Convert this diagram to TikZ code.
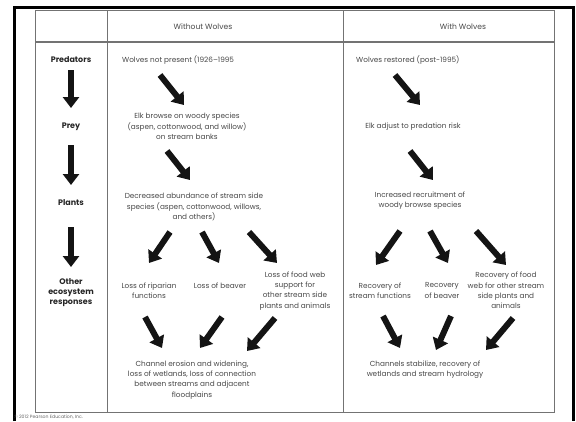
\documentclass[tikz,border=0pt]{standalone}
\usepackage{fontspec}
\setmainfont{Poppins}
\usetikzlibrary{arrows.meta}
\definecolor{txt}{gray}{0.28}
\definecolor{rule}{gray}{0.45}
\tikzset{
  txtnode/.style={inner sep=0pt, align=center, text=txt, font=\fontsize{7.3}{10.3}\selectfont},
  lbl/.style={inner sep=0pt, align=center, text=black!85, font=\fontsize{8}{10}\selectfont\bfseries},
  hdr/.style={inner sep=0pt, text=txt, font=\fontsize{7.6}{10}\selectfont},
  bigarrow/.style={line width=6pt, draw=black!92, -{Triangle[length=11pt,width=16pt]}},
  tableline/.style={draw=rule, line width=1pt},
}
\begin{document}
\begin{tikzpicture}[x=1pt,y=-1pt]
\useasboundingbox (0,0) rectangle (576,421);
% slide frame
\draw[line width=3pt, black] (14.5,421) -- (14.5,7.5) -- (573,7.5) -- (573,421);
% table
\draw[tableline] (35,10) rectangle (554,412);
\draw[tableline] (107,10) -- (107,412);
\draw[tableline] (343,10) -- (343,412);
\draw[draw=rule, line width=1.6pt] (35,42) -- (554,42);
% headers
\node[hdr] (h1) at (203,27) {Without Wolves};
\node[hdr] (h2) at (463,27) {With Wolves};
% left column
\node[lbl] (pred) at (71,60) {Predators};
\node[lbl] (prey) at (71,127) {Prey};
\node[lbl] (plants) at (71,203) {Plants};
\node[lbl] (other) at (71,293) {Other\\ecosystem\\responses};
\coordinate (l1s) at (71,70);  \coordinate (l1e) at (71,108);
\coordinate (l2s) at (71,145); \coordinate (l2e) at (71,185);
\coordinate (l3s) at (71,227); \coordinate (l3e) at (71,267);
\draw[bigarrow] (l1s) -- (l1e);
\draw[bigarrow] (l2s) -- (l2e);
\draw[bigarrow] (l3s) -- (l3e);
% without wolves
\node[txtnode, anchor=west] (w1) at (122,60) {Wolves not present (1926–1995};
\node[txtnode] (w2) at (187,126.5) {Elk browse on woody species\\(aspen, cottonwood, and willow)\\on stream banks};
\node[txtnode] (w3) at (194,207) {Decreased abundance of stream side\\species (aspen, cottonwood, willows,\\and others)};
\node[txtnode] (w4) at (149,291) {Loss of riparian\\functions};
\node[txtnode] (w5) at (220,286) {Loss of beaver};
\node[txtnode] (w6) at (295,291) {Loss of food web\\support for\\other stream side\\plants and animals};
\node[txtnode] (w7) at (192,380) {Channel erosion and widening,\\loss of wetlands, loss of connection\\between streams and adjacent\\floodplains};
\coordinate (a1s) at (160,75);  \coordinate (a1e) at (184,105);
\coordinate (a2s) at (167,151); \coordinate (a2e) at (190,180);
\coordinate (a3s) at (170,232); \coordinate (a3e) at (149,263);
\coordinate (a4s) at (202,232); \coordinate (a4e) at (219,263);
\coordinate (a5s) at (249,232); \coordinate (a5e) at (277,263);
\coordinate (a6s) at (145,317); \coordinate (a6e) at (162,348);
\coordinate (a7s) at (222,317); \coordinate (a7e) at (200,348);
\coordinate (a8s) at (275,318); \coordinate (a8e) at (247,351);
\foreach \i in {1,...,8} {\draw[bigarrow] (a\i s) -- (a\i e);}
% with wolves
\node[txtnode, anchor=west] (r1) at (356,60) {Wolves restored (post-1995)};
\node[txtnode] (r2) at (413,127) {Elk adjust to predation risk};
\node[txtnode] (r3) at (420,201) {Increased recruitment of\\woody browse species};
\node[txtnode] (r4) at (380,290.5) {Recovery of\\stream functions};
\node[txtnode] (r5) at (442,290.5) {Recovery\\of beaver};
\node[txtnode] (r6) at (506,290.5) {Recovery of food\\web for other stream\\side plants and\\animals};
\node[txtnode] (r7) at (425,369.5) {Channels stabilize, recovery of\\wetlands and stream hydrology};
\coordinate (b1s) at (395,75);  \coordinate (b1e) at (420,105);
\coordinate (b2s) at (410,151); \coordinate (b2e) at (433,180);
\coordinate (b3s) at (400,231); \coordinate (b3e) at (376,265);
\coordinate (b4s) at (430,231); \coordinate (b4e) at (448,263);
\coordinate (b5s) at (476,231); \coordinate (b5e) at (506,265);
\coordinate (b6s) at (383,316); \coordinate (b6e) at (400,348);
\coordinate (b7s) at (451,316); \coordinate (b7e) at (436,350);
\coordinate (b8s) at (513,318); \coordinate (b8e) at (486,350);
\foreach \i in {1,...,8} {\draw[bigarrow] (b\i s) -- (b\i e);}
% copyright
\node[inner sep=0pt, anchor=west, text=black!60, font=\fontsize{4.6}{5}\selectfont] (copy) at (14,417) {© 2012 Pearson Education, Inc.};
\end{tikzpicture}
\end{document}
